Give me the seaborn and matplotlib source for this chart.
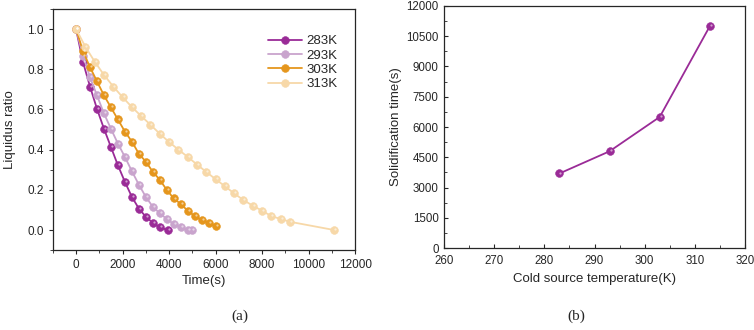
import numpy as np
import pandas as pd
import matplotlib
matplotlib.use("Agg")
import matplotlib.pyplot as plt
import matplotlib.transforms as mtransforms
from matplotlib.ticker import MultipleLocator
import seaborn as sns

# ---- data ----
t_283 = [0, 300, 600, 900, 1200, 1500, 1800, 2100, 2400, 2700, 3000, 3300, 3600, 3950]
r_283 = [1.0, 0.835, 0.714, 0.603, 0.504, 0.413, 0.322, 0.240, 0.165, 0.107, 0.066, 0.036, 0.013, 0.0]

t_293 = [0, 300, 600, 900, 1200, 1500, 1800, 2100, 2400, 2700, 3000, 3300, 3600, 3900,
         4200, 4500, 4800, 5000]
r_293 = [1.0, 0.868, 0.76, 0.67, 0.58, 0.504, 0.43, 0.364, 0.293, 0.226, 0.165, 0.116,
         0.083, 0.055, 0.03, 0.013, 0.0, 0.0]

t_303 = [0, 300, 600, 900, 1200, 1500, 1800, 2100, 2400, 2700, 3000, 3300, 3600, 3900,
         4200, 4500, 4800, 5100, 5400, 5700, 6000]
r_303 = [1.0, 0.89, 0.81, 0.74, 0.67, 0.61, 0.55, 0.49, 0.44, 0.38, 0.34, 0.29, 0.25,
         0.20, 0.157, 0.13, 0.096, 0.07, 0.05, 0.036, 0.02]

t_313 = [0, 400, 800, 1200, 1600, 2000, 2400, 2800, 3200, 3600, 4000, 4400, 4800, 5200,
         5600, 6000, 6400, 6800, 7200, 7600, 8000, 8400, 8800, 9200, 11100]
r_313 = [1.0, 0.912, 0.838, 0.772, 0.714, 0.661, 0.612, 0.567, 0.524, 0.479, 0.438, 0.40,
         0.364, 0.326, 0.289, 0.253, 0.218, 0.182, 0.149, 0.121, 0.096, 0.069, 0.055,
         0.041, 0.0]

labels = ["283K", "293K", "303K", "313K"]
colors = ["#9a2b97", "#c9a4cd", "#e5961d", "#f7d8a8"]

temps = [283, 293, 303, 313]
solid_time = [3700, 4800, 6500, 11000]

# long-form table for seaborn
frames = []
for lab, t, r in zip(labels, [t_283, t_293, t_303, t_313], [r_283, r_293, r_303, r_313]):
    frames.append(pd.DataFrame({"time": t, "ratio": r, "case": lab}))
df = pd.concat(frames, ignore_index=True)
df2 = pd.DataFrame({"temp": temps, "time": solid_time})

sns.set_style("ticks")
plt.rcParams["font.family"] = ["Liberation Sans", "DejaVu Sans"]

fig = plt.figure(figsize=(7.54, 3.30), dpi=100)
ax1 = fig.add_axes([0.070, 0.242, 0.401, 0.731])
ax2 = fig.add_axes([0.589, 0.248, 0.399, 0.734])

pal = dict(zip(labels, colors))
MS = 5.6

# ---- (a) liquidus ratio ----
sns.lineplot(data=df, x="time", y="ratio", hue="case", palette=pal, marker="o",
             markersize=MS, markeredgewidth=0.4, linewidth=1.3, ax=ax1, sort=False)
for line in ax1.get_lines():
    if line.get_color() in colors:
        line.set_markeredgecolor(line.get_color())
# small shine on each sphere
hl = mtransforms.offset_copy(ax1.transData, fig=fig, x=0.7, y=0.7, units="points")
for lab in labels:
    sub = df[df["case"] == lab]
    ax1.plot(sub["time"], sub["ratio"], "o", ms=1.6, color="white", alpha=0.55,
             mec="none", transform=hl)

ax1.set_xlim(-1000, 12000)
ax1.set_ylim(-0.1, 1.1)
ax1.set_xticks(np.arange(0, 12001, 2000))
ax1.set_yticks(np.arange(0, 1.01, 0.2))
ax1.set_yticklabels([f"{v:.1f}" for v in np.arange(0, 1.01, 0.2)])
ax1.xaxis.set_minor_locator(MultipleLocator(1000))
ax1.yaxis.set_minor_locator(MultipleLocator(0.1))
ax1.tick_params(which="major", direction="out", length=3, width=0.8, labelsize=8.5)
ax1.tick_params(which="minor", direction="out", length=2, width=0.6)
ax1.set_xlabel("Time(s)", fontsize=9.5, labelpad=3)
ax1.set_ylabel("Liquidus ratio", fontsize=9.5, labelpad=8)
for s in ax1.spines.values():
    s.set_linewidth(0.9)
    s.set_visible(True)

leg = ax1.legend(loc="upper right", bbox_to_anchor=(0.98, 0.94), frameon=False,
                 fontsize=9.5, handlelength=2.6, handletextpad=0.3, labelspacing=0.15,
                 title=None)
for h in leg.legend_handles:
    h.set_markeredgecolor(h.get_color())

# ---- (b) solidification time ----
sns.lineplot(data=df2, x="temp", y="time", color=colors[0], marker="o", markersize=MS,
             markeredgecolor=colors[0], markeredgewidth=0.4, linewidth=1.3, ax=ax2)
hl2 = mtransforms.offset_copy(ax2.transData, fig=fig, x=0.7, y=0.7, units="points")
ax2.plot(df2["temp"], df2["time"], "o", ms=1.6, color="white", alpha=0.55, mec="none",
         transform=hl2)
ax2.set_xlim(260, 320)
ax2.set_ylim(0, 12000)
ax2.set_xticks(np.arange(260, 321, 10))
ax2.set_yticks(np.arange(0, 12001, 1500))
ax2.xaxis.set_minor_locator(MultipleLocator(5))
ax2.yaxis.set_minor_locator(MultipleLocator(750))
ax2.tick_params(which="major", direction="in", length=3, width=0.8, labelsize=8.3)
ax2.tick_params(which="minor", direction="in", length=2, width=0.6)
ax2.tick_params(axis="x", pad=5)
ax2.tick_params(axis="y", pad=4)
ax2.set_xlabel("Cold source temperature(K)", fontsize=9.5, labelpad=4)
ax2.set_ylabel("Solidification time(s)", fontsize=9.5, labelpad=3)
for s in ax2.spines.values():
    s.set_linewidth(0.9)
    s.set_visible(True)

# panel captions
fig.text(0.318, 0.03, "(a)", fontsize=11, family="Liberation Serif", ha="center")
fig.text(0.765, 0.03, "(b)", fontsize=11, family="Liberation Serif", ha="center")

fig.savefig("out.png", dpi=100)
